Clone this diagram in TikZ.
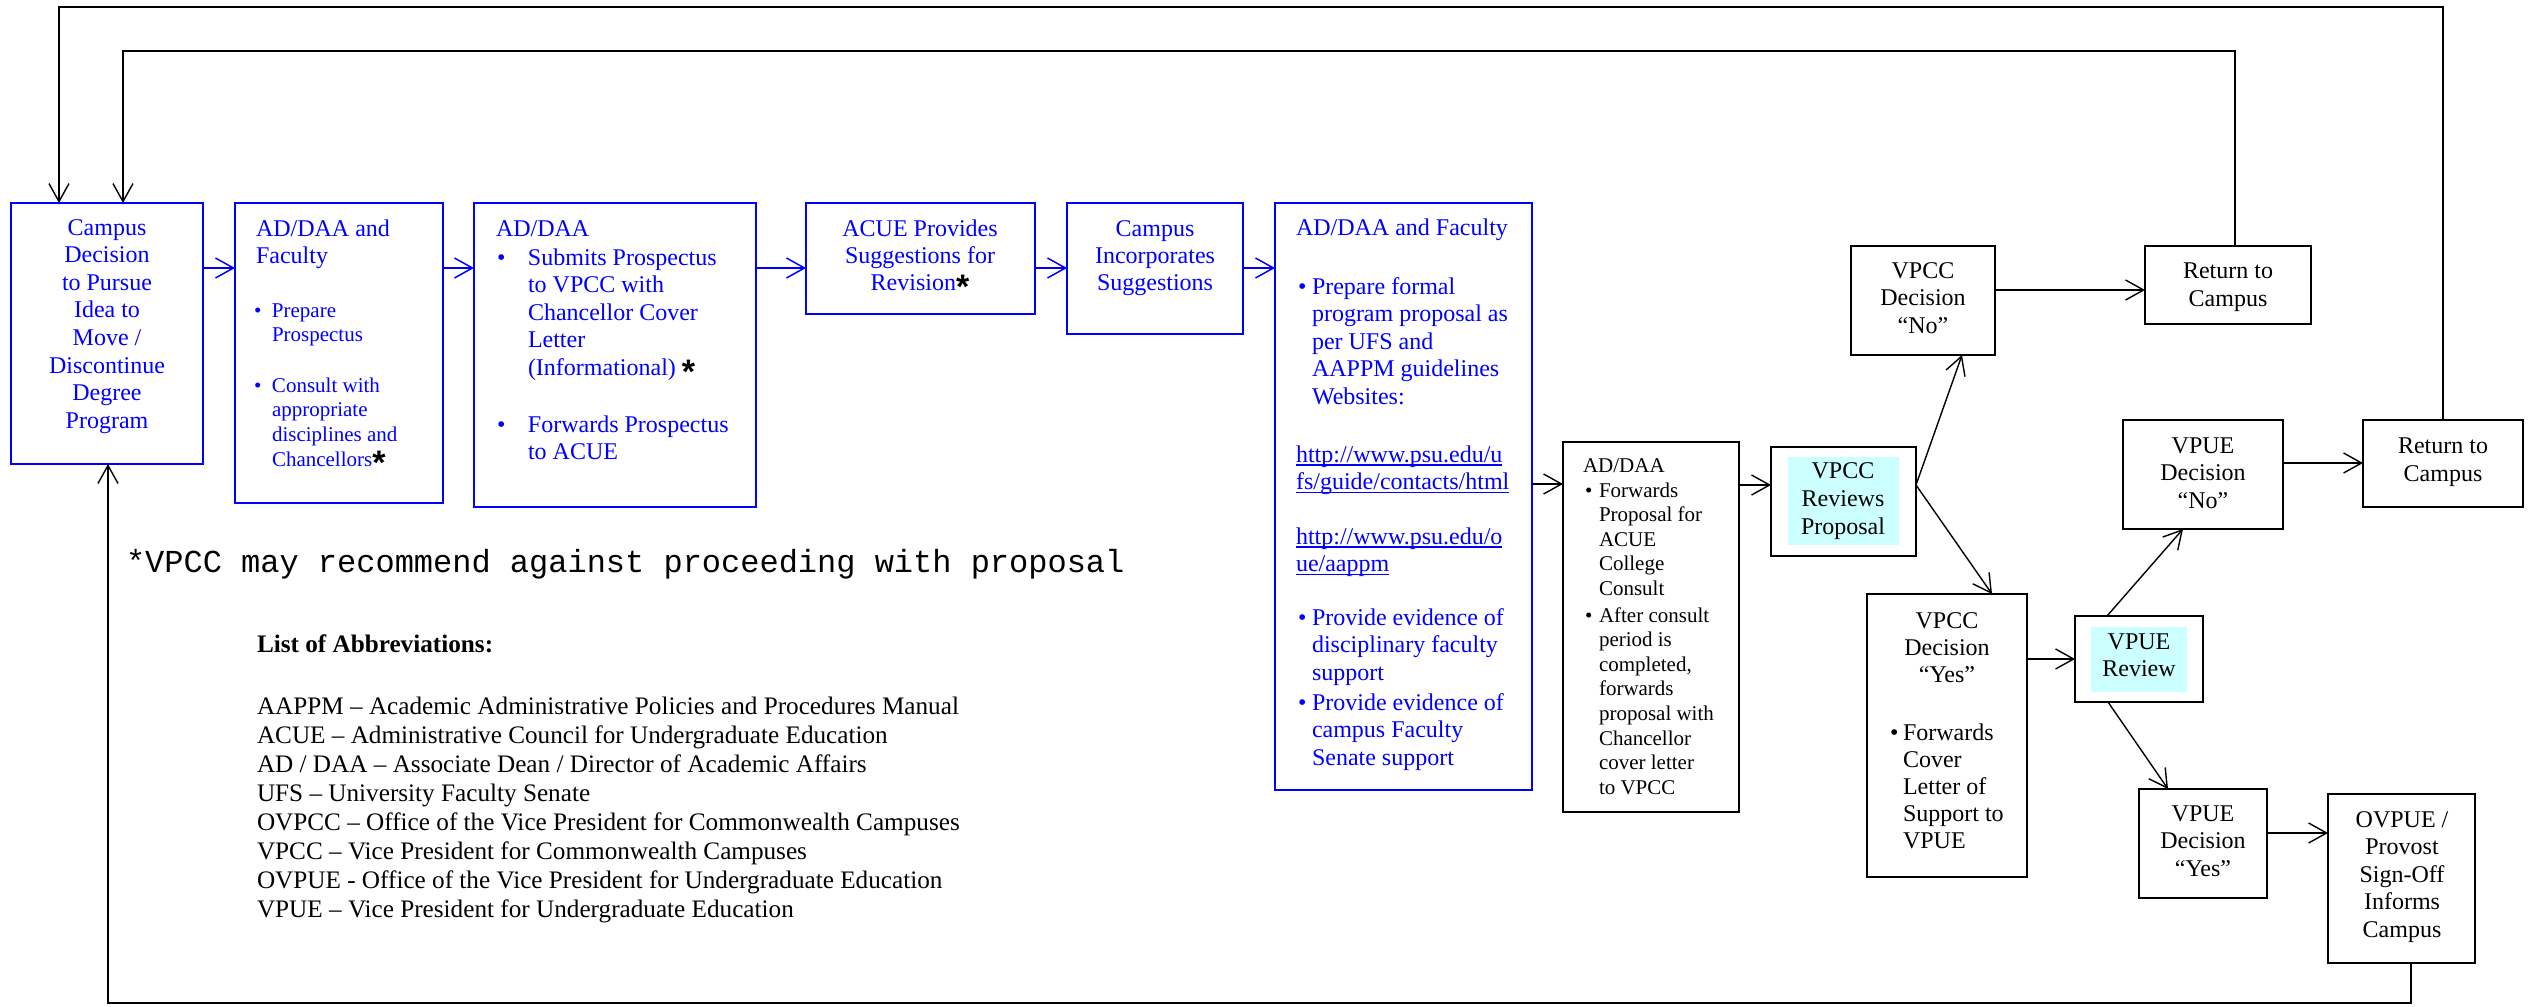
\documentclass[tikz,border=0pt]{standalone}
\usepackage{fontspec}
\setmainfont{Liberation Serif}
\setsansfont{Liberation Sans}
\setmonofont{Liberation Mono}
\usetikzlibrary{arrows.meta}
\definecolor{pblue}{RGB}{0,0,255}
\definecolor{pcyan}{RGB}{204,255,255}
\newcommand\fz[2]{\fontsize{#1}{#2}\selectfont}
\newcommand\ctr[1]{\begin{tabular}[t]{@{}c@{}}#1\end{tabular}}
\newcommand\lft[1]{\begin{tabular}[t]{@{}l@{}}#1\end{tabular}}
\newcommand\bul[2]{\begin{tabular}[t]{@{}l@{}l@{}}\makebox[#1][l]{\textbullet}&#2\end{tabular}}
\newcommand\starx{\raisebox{-4.2pt}{\color{black}\fontsize{17}{17}\sffamily\bfseries *}}
\newcommand\ulx[1]{\setbox0\hbox{#1}\rlap{\rule[-1.8pt]{\wd0}{0.7pt}}\box0}
\newcommand\bx[6]{\node[#1, minimum width={(#5-#3)*0.5pt}, minimum height={(#6-#4)*0.5pt}] (#2) at ({(#3+#5)/2},{(#4+#6)/2}) {};}
\tikzset{
 bbox/.style={draw=pblue, line width=1pt, inner sep=0pt, outer sep=0pt},
 kbox/.style={draw=black, line width=0.8pt, inner sep=0pt, outer sep=0pt},
 fillbox/.style={fill=pcyan, draw=none, inner sep=0pt, outer sep=0pt},
 txt/.style={inner sep=0pt, outer sep=0pt, anchor=base},
 ltxt/.style={inner sep=0pt, outer sep=0pt, anchor=base west},
 btxt/.style={text=pblue},
 barrow/.style={draw=pblue, line width=0.75pt, -{Straight Barb[length=9pt,width=10pt,line width=0.75pt]}},
 karrow/.style={draw=black, line width=0.7pt, -{Straight Barb[length=9pt,width=10pt,line width=0.7pt]}},
}
\begin{document}
\begin{tikzpicture}[x=0.5pt,y=-0.5pt]
\useasboundingbox (0,0) rectangle (2534,1007);
\fill[white] (0,0) rectangle (2534,1007);
% boxes
\bx{bbox}{b1}{11}{203}{203}{464}
\bx{bbox}{b2}{235}{203}{443}{503}
\bx{bbox}{b3}{474}{203}{756}{507}
\bx{bbox}{acue}{806}{203}{1035}{314}
\bx{bbox}{cinc}{1067}{203}{1243}{334}
\bx{bbox}{b6}{1275}{203}{1532}{790}
\bx{kbox}{b7}{1563}{442}{1739}{812}
\bx{kbox}{vrev}{1771}{447}{1916}{556}
\bx{fillbox}{vrevf}{1788}{457}{1899}{545}
\bx{kbox}{vno}{1851}{246}{1995}{355}
\bx{kbox}{ret1}{2145}{246}{2311}{324}
\bx{kbox}{vyes}{1867}{594}{2027}{877}
\bx{kbox}{urev}{2075}{616}{2203}{702}
\bx{fillbox}{urevf}{2091}{627}{2187}{692}
\bx{kbox}{uno}{2123}{420}{2283}{529}
\bx{kbox}{ret2}{2363}{420}{2523}{507}
\bx{kbox}{uyes}{2139}{789}{2267}{898}
\bx{kbox}{ovp}{2328}{794}{2475}{963}
% texts
\node[txt,btxt] (t1) at (107,235) {\fz{12}{13.8}\ctr{Campus\\Decision\\to Pursue\\Idea to\\Move /\\Discontinue\\Degree\\Program}};
\node[ltxt,btxt] (t2a) at (256,236) {\fz{12}{13.8}\lft{AD/DAA and\\Faculty}};
\node[ltxt,btxt] (t2b) at (254,317) {\fz{10.5}{12.4}\bul{9pt}{Prepare\\&Prospectus}};
\node[ltxt,btxt] (t2c) at (254,392) {\fz{10.5}{12.4}\bul{9pt}{Consult with\\&appropriate\\&disciplines and\\&Chancellors\starx}};
\node[ltxt,btxt] (t3a) at (496,236) {\fz{12}{13.8}AD/DAA};
\node[ltxt,btxt] (t3b) at (497,265) {\fz{12}{13.8}\bul{15.5pt}{Submits Prospectus\\&to VPCC with\\&Chancellor Cover\\&Letter\\&(Informational) \starx}};
\node[ltxt,btxt] (t3c) at (497,432) {\fz{12}{13.8}\bul{15.5pt}{Forwards Prospectus\\&to ACUE}};
\node[txt,btxt] (t4) at (920,236) {\fz{12}{13.6}\ctr{ACUE Provides\\Suggestions for\\Revision\starx}};
\node[txt,btxt] (t5) at (1155,236) {\fz{12}{13.7}\ctr{Campus\\Incorporates\\Suggestions}};
\node[ltxt,btxt] (t6a) at (1296,235) {\fz{12}{13.8}AD/DAA and Faculty};
\node[ltxt,btxt] (t6b) at (1298,294) {\fz{12}{13.8}\bul{7pt}{Prepare formal\\&program proposal as\\&per UFS and\\&AAPPM guidelines\\&Websites:}};
\node[ltxt,btxt] (t6c) at (1296,462) {\fz{12}{13.8}\lft{\ulx{http://www.psu.edu/u}\\\ulx{fs/guide/contacts/html}}};
\node[ltxt,btxt] (t6d) at (1296,544) {\fz{12}{13.8}\lft{\ulx{http://www.psu.edu/o}\\\ulx{ue/aappm}}};
\node[ltxt,btxt] (t6e) at (1298,625) {\fz{12}{13.8}\bul{7pt}{Provide evidence of\\&disciplinary faculty\\&support}};
\node[ltxt,btxt] (t6f) at (1298,710) {\fz{12}{13.8}\bul{7pt}{Provide evidence of\\&campus Faculty\\&Senate support}};
\node[ltxt] (t7a) at (1583,472) {\fz{10.5}{12.3}AD/DAA};
\node[ltxt] (t7b) at (1585,497) {\fz{10.5}{12.3}\bul{7pt}{Forwards\\&Proposal for\\&ACUE\\&College\\&Consult}};
\node[ltxt] (t7c) at (1585,622) {\fz{10.5}{12.3}\bul{7pt}{After consult\\&period is\\&completed,\\&forwards\\&proposal with\\&Chancellor\\&cover letter\\&to VPCC}};
\node[txt] (t8) at (1843,478) {\fz{12}{14}\ctr{VPCC\\Reviews\\Proposal}};
\node[txt] (t9) at (1923,278) {\fz{12}{13.75}\ctr{VPCC\\Decision\\“No”}};
\node[txt] (t10) at (2228,278) {\fz{12}{14.3}\ctr{Return to\\Campus}};
\node[txt] (t11a) at (1947,628) {\fz{12}{13.6}\ctr{VPCC\\Decision\\“Yes”}};
\node[ltxt] (t11b) at (1890,740) {\fz{12}{13.5}\bul{6.5pt}{Forwards\\&Cover\\&Letter of\\&Support to\\&VPUE}};
\node[txt] (t12) at (2139,649) {\fz{12}{13.5}\ctr{VPUE\\Review}};
\node[txt] (t13) at (2203,453) {\fz{12}{13.75}\ctr{VPUE\\Decision\\“No”}};
\node[txt] (t14) at (2443,453) {\fz{12}{14}\ctr{Return to\\Campus}};
\node[txt] (t15) at (2203,821) {\fz{12}{13.75}\ctr{VPUE\\Decision\\“Yes”}};
\node[txt] (t16) at (2402,827) {\fz{12}{13.75}\ctr{OVPUE /\\Provost\\Sign-Off\\Informs\\Campus}};
\node[ltxt] (note) at (126,572) {\ttfamily\fz{16}{18}*VPCC may recommend against proceeding with proposal};
\node[ltxt] (abh) at (257,652) {\fz{12.6}{14.57}\bfseries List of Abbreviations:};
\node[ltxt] (abl) at (257,714) {\fz{12.6}{14.57}\lft{AAPPM – Academic Administrative Policies and Procedures Manual\\
ACUE – Administrative Council for Undergraduate Education\\
AD / DAA – Associate Dean / Director of Academic Affairs\\
UFS – University Faculty Senate\\
OVPCC – Office of the Vice President for Commonwealth Campuses\\
VPCC – Vice President for Commonwealth Campuses\\
OVPUE - Office of the Vice President for Undergraduate Education\\
VPUE – Vice President for Undergraduate Education}};
% connectors
\draw[barrow] (b1.east |- 0,268) -- (b2.west |- 0,268);
\draw[barrow] (b2.east |- 0,268) -- (b3.west |- 0,268);
\draw[barrow] (b3.east |- 0,268) -- (acue.west |- 0,268);
\draw[barrow] (acue.east |- 0,268) -- (cinc.west |- 0,268);
\draw[barrow] (cinc.east |- 0,268) -- (b6.west |- 0,268);
\draw[karrow] (b6.east |- 0,484) -- (b7.west |- 0,484);
\draw[karrow] (b7.east |- 0,485) -- (vrev.west |- 0,485);
\draw[karrow] (vrev.east |- 0,485) -- (vno.south -| 1962,0);
\draw[karrow] (vrev.east |- 0,485) -- (vyes.north -| 1992,0);
\draw[karrow] (vno.east |- 0,290) -- (ret1.west |- 0,290);
\draw[karrow] (vyes.east |- 0,659) -- (urev.west |- 0,659);
\draw[karrow] (urev.north -| 2107,0) -- (uno.south -| 2183,0);
\draw[karrow] (urev.south -| 2108,0) -- (uyes.north -| 2168,0);
\draw[karrow] (uno.east |- 0,463) -- (ret2.west |- 0,463);
\draw[karrow] (uyes.east |- 0,833) -- (ovp.west |- 0,833);
\draw[karrow] (ret1.north -| 2235,0) |- (123,51) -- (b1.north -| 123,0);
\draw[karrow] (ret2.north -| 2443,0) |- (59,7) -- (b1.north -| 59,0);
\draw[karrow] (ovp.south -| 2411,0) |- (108,1003) -- (b1.south -| 108,0);
\end{tikzpicture}
\end{document}
